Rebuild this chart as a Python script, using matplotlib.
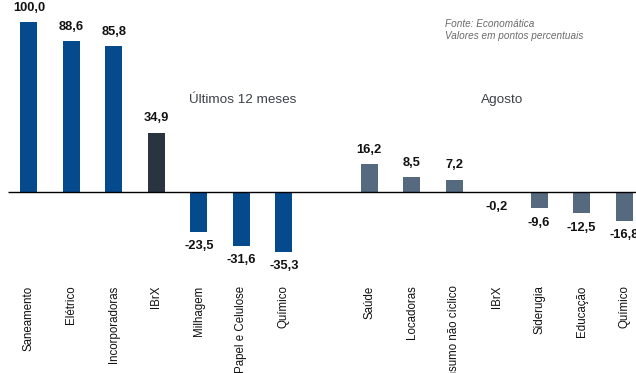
import numpy as np
import matplotlib.pyplot as plt

# Últimos 12 meses
ano_setores = ["Saneamento", "Elétrico", "Incorporadoras", "IBrX",
               "Milhagem", "Papel e Celulose", "Químico"]
ano_valores = [100.0, 88.6, 85.8, 34.9, -23.5, -31.6, -35.3]

# Agosto
mes_setores = ["Saúde", "Locadoras", "Consumo não cíclico", "IBrX",
               "Siderugia", "Educação", "Químico"]
mes_valores = [16.2, 8.5, 7.2, -0.2, -9.6, -12.5, -16.8]

AZUL = "#064a8e"
ESCURO = "#2a3440"
CINZA = "#55697f"

fig = plt.figure(figsize=(6.36, 3.73), dpi=100)
ax = fig.add_axes([0, 0, 1, 1])

x_ano = np.arange(len(ano_setores))
x_mes = np.arange(len(mes_setores)) + len(ano_setores) + 1

cores_ano = [ESCURO if s == "IBrX" else AZUL for s in ano_setores]
ax.bar(x_ano, ano_valores, width=0.4, color=cores_ano, zorder=2)
ax.bar(x_mes, mes_valores, width=0.4, color=CINZA, zorder=2)

fonte_num = dict(family=["Liberation Sans", "DejaVu Sans"],
                 fontsize=9.3, fontweight="bold", color="#111111")
for xs, vs in ((x_ano, ano_valores), (x_mes, mes_valores)):
    for x, v in zip(xs, vs):
        rotulo = f"{v:.1f}".replace(".", ",")
        if v >= 0:
            ax.annotate(rotulo, (x, v), xytext=(0, 6), textcoords="offset points",
                        ha="center", va="bottom", **fonte_num)
        else:
            ax.annotate(rotulo, (x, v), xytext=(0, -6), textcoords="offset points",
                        ha="center", va="top", **fonte_num)

# nomes dos setores, verticais, abaixo da linha de base
fonte_cat = dict(family=["Liberation Sans", "DejaVu Sans"],
                 fontsize=8.3, color="#111111", rotation=90,
                 ha="center", va="top")
for x, s in list(zip(x_ano, ano_setores)) + list(zip(x_mes, mes_setores)):
    ax.text(x, -55, s, **fonte_cat)

ax.hlines(0, -0.5, 14.5, color="black", linewidth=1, zorder=3)

ax.text(5.04, 54, "Últimos 12 meses", ha="center", va="center",
        fontsize=9.7, color="#3c4148", family="Liberation Sans")
ax.text(11.13, 54, "Agosto", ha="center", va="center",
        fontsize=9.7, color="#3c4148", family="Liberation Sans")
ax.text(9.78, 95.5, "Fonte: Economática\nValores em pontos percentuais",
        ha="left", va="center", fontsize=7.2, style="italic",
        color="#6a6a6a", family="Liberation Sans", linespacing=1.25)

ax.set_xlim(-0.68, 14.28)
ax.set_ylim(-106.5, 112.9)
ax.axis("off")

fig.savefig("out.png", dpi=100)
